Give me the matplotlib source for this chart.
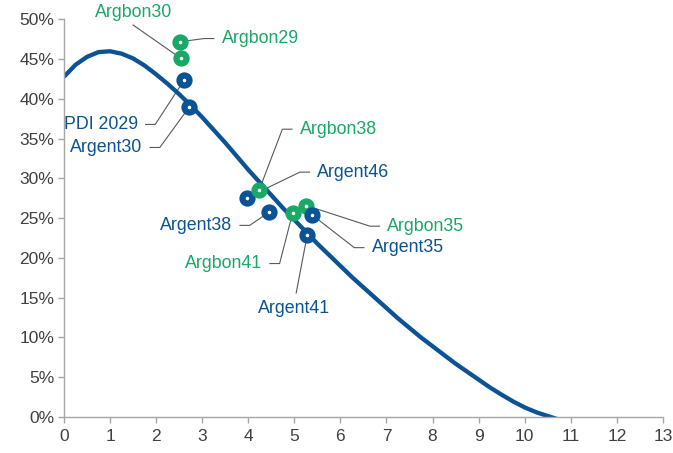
import matplotlib
matplotlib.use("Agg")
import matplotlib.pyplot as plt
from matplotlib.ticker import PercentFormatter

BLUE = "#0B5394"
GREEN = "#19A866"
GRAY = "#A6A6A6"

# fitted curve
curve_x = [0, 0.25, 0.5, 0.75, 1.0, 1.25, 1.5, 1.75, 2.0, 2.25, 2.5, 2.75,
           3.0, 3.25, 3.5, 3.75, 4.0, 4.25, 4.5, 4.75, 5.0, 5.25, 5.5, 5.75,
           6.0, 6.25, 6.5, 6.75, 7.0, 7.25, 7.5, 7.75, 8.0, 8.25, 8.5, 8.75,
           9.0, 9.25, 9.5, 9.75, 10.0, 10.25, 10.5, 10.7]
curve_y = [42.8, 44.3, 45.3, 45.9, 46.0, 45.7, 45.1, 44.2, 43.1, 41.9, 40.6, 39.2,
           37.7, 36.1, 34.5, 32.8, 31.1, 29.5, 27.9, 26.3, 24.8, 23.3, 21.8, 20.4,
           19.0, 17.6, 16.3, 15.0, 13.7, 12.4, 11.2, 10.0, 8.9, 7.8, 6.7, 5.7,
           4.7, 3.7, 2.8, 1.95, 1.2, 0.6, 0.12, -0.25]

# bonds: name, duration, yield
names = ["Argbon29", "Argbon30", "PDI 2029", "Argent30", "Argent46", "Argbon38",
         "Argent38", "Argbon41", "Argbon35", "Argent35", "Argent41"]
dur = [2.52, 2.54, 2.61, 2.72, 3.98, 4.24, 4.46, 4.96, 5.26, 5.39, 5.28]
ytm = [47.2, 45.1, 42.4, 39.0, 27.6, 28.6, 25.8, 25.6, 26.6, 25.4, 22.9]
kind = ["bon", "bon", "ent", "ent", "ent", "bon", "ent", "bon", "bon", "ent", "ent"]

# label anchor (x, y) in data units and alignment
lab_x = [3.42, 1.5, 1.6, 1.7, 5.5, 5.12, 3.65, 4.3, 7.02, 6.68, 5.0]
lab_y = [47.6, 50.9, 36.8, 33.9, 30.8, 36.2, 24.1, 19.3, 24.0, 21.3, 13.6]
lab_ha = ["left", "center", "right", "right", "left", "left", "right", "right",
          "left", "left", "center"]

fig = plt.figure(figsize=(6.73, 4.53), dpi=100)
ax = fig.add_axes([0.0951, 0.0795, 0.8899, 0.8775])

ax.plot(curve_x, curve_y, color=BLUE, lw=3.1, solid_joinstyle="round",
        solid_capstyle="butt", zorder=2)

for n, x, y, k, lx, ly, ha in zip(names, dur, ytm, kind, lab_x, lab_y, lab_ha):
    c = GREEN if k == "bon" else BLUE
    # leader line: short horizontal stub next to the label, then to the point
    if ha == "left":
        ax.plot([x, lx - 0.38, lx - 0.17], [y, ly, ly], color="#595959", lw=0.8, zorder=1)
    elif ha == "right":
        ax.plot([lx + 0.17, lx + 0.38, x], [ly, ly, y], color="#595959", lw=0.8, zorder=1)
    elif n == "Argent41":
        ax.plot([lx + 0.04, x], [ly + 2.0, y], color="#595959", lw=0.8, zorder=1)
    else:
        ax.plot([lx, x], [ly - 1.6, y], color="#595959", lw=0.8, zorder=1)
    ax.plot(x, y, "o", ms=7.2, mew=4.5, mfc="white", mec=c, zorder=3)
    ax.text(lx, ly, n, color=c, ha=ha, va="center", fontsize=12.8,
            family="Liberation Sans", zorder=4)

ax.set_xlim(0, 13)
ax.set_ylim(0, 50)
ax.set_xticks(range(0, 14))
ax.set_yticks(range(0, 51, 5))
ax.yaxis.set_major_formatter(PercentFormatter(decimals=0))
for s in ["top", "right"]:
    ax.spines[s].set_visible(False)
for s in ["left", "bottom"]:
    ax.spines[s].set_color(GRAY)
    ax.spines[s].set_linewidth(1.0)
ax.tick_params(colors=GRAY, labelcolor="#404040", length=4, width=1.0,
               labelsize=12.5)
for t in ax.get_xticklabels() + ax.get_yticklabels():
    t.set_family("Liberation Sans")
ax.tick_params(axis="x", pad=5)
ax.tick_params(axis="y", pad=3)

fig.savefig("out.png", dpi=100)
